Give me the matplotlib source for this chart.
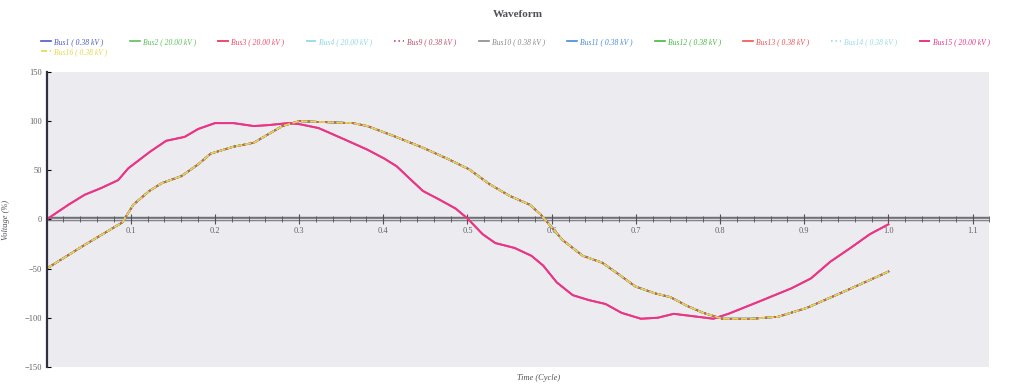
import numpy as np
import matplotlib
matplotlib.use("Agg")
import matplotlib.pyplot as plt
from matplotlib.ticker import MultipleLocator

##--------------------##
## Data
##--------------------##

# Buses on the 0.38 kV side (they all sit on top of each other)
t_main = [0.0, 0.045, 0.09, 0.103, 0.122, 0.137, 0.16, 0.18, 0.195, 0.222, 0.246,
          0.264, 0.28, 0.30, 0.33, 0.364, 0.381, 0.412, 0.447, 0.478, 0.502, 0.526,
          0.55, 0.574, 0.587, 0.60, 0.613, 0.637, 0.66, 0.68, 0.699, 0.722, 0.741,
          0.761, 0.78, 0.803, 0.838, 0.869, 0.903, 0.943, 0.99, 1.0]
v_main = [-50, -26, -3, 15, 29, 37, 44, 56, 67, 74, 78,
          87, 95, 100, 99, 98, 95, 85, 73, 61, 51, 36,
          24, 15, 5, -8, -21, -37, -44, -56, -68, -75, -79,
          -88, -95, -101, -101, -99, -90, -75, -57, -53]

# 20 kV bus (shifted waveform)
t_shift = [0.0, 0.026, 0.045, 0.065, 0.085, 0.097, 0.123, 0.142, 0.164, 0.18, 0.2,
           0.222, 0.246, 0.264, 0.287, 0.30, 0.323, 0.355, 0.381, 0.401, 0.416, 0.432,
           0.447, 0.467, 0.486, 0.50, 0.518, 0.533, 0.556, 0.576, 0.59, 0.606, 0.625,
           0.644, 0.664, 0.683, 0.706, 0.726, 0.745, 0.764, 0.792, 0.81, 0.845, 0.885,
           0.908, 0.931, 0.955, 0.978, 1.0]
v_shift = [0, 15, 25, 32, 40, 52, 69, 80, 84, 92, 98,
           98, 95, 96, 98, 97, 93, 81, 71, 62, 54, 41,
           29, 20, 11, 1, -15, -24, -29, -37, -47, -64, -77,
           -82, -86, -95, -101, -100, -96, -98, -101, -96, -84, -70,
           -60, -43, -29, -15, -5]

buses = ["Bus1 ( 0.38 kV )", "Bus2 ( 20.00 kV )", "Bus3 ( 20.00 kV )", "Bus4 ( 20.00 kV )",
         "Bus9 ( 0.38 kV )", "Bus10 ( 0.38 kV )", "Bus11 ( 0.38 kV )", "Bus12 ( 0.38 kV )",
         "Bus13 ( 0.38 kV )", "Bus14 ( 0.38 kV )", "Bus15 ( 20.00 kV )", "Bus16 ( 0.38 kV )"]
shifted = [False, False, True, False, False, False, False, False, False, False, True, False]
colors = ["#4a5cc4", "#5cc05c", "#ee4a6a", "#8fd6e6", "#c0506a", "#8a8a8a",
          "#4a88d8", "#44b844", "#f05050", "#9adcea", "#e8358c", "#e6d84a"]
styles = ["-", "-", "-", "-.", ":", "-", "-", "-", "-", ":", "-", "--"]

##--------------------##
## Plot
##--------------------##

plt.rcParams['font.family'] = ['Liberation Serif', 'DejaVu Serif']

fig = plt.figure(figsize=(10.36, 3.85), dpi=100)
ax = fig.add_axes([0.045, 0.047, 0.91, 0.766])
ax.set_facecolor("#ececf0")

handles = []
for name, sh, c, ls in zip(buses, shifted, colors, styles):
    if sh:
        h, = ax.plot(t_shift, v_shift, color=c, ls=ls, lw=1.4, label=name,
                     solid_joinstyle='round')
    else:
        h, = ax.plot(t_main, v_main, color=c, ls=ls, lw=1.2, label=name,
                     solid_joinstyle='round')
    handles.append(h)

# double zero line like the original
ax.axhline(0, color="#707078", lw=3.2, zorder=1)
ax.axhline(0, color="#d8d8dc", lw=1.0, zorder=1)

ax.set_xlim(0, 1.12)
ax.set_ylim(-150, 150)
ax.spines['bottom'].set_position(('data', 0))
ax.spines['bottom'].set_visible(False)
ax.spines['top'].set_visible(False)
ax.spines['right'].set_visible(False)
ax.spines['left'].set_color("#303040")
ax.spines['left'].set_linewidth(1.6)

ax.xaxis.set_minor_locator(MultipleLocator(0.02))
ax.set_xticks(np.arange(0.1, 1.11, 0.1))
ax.set_xticklabels(["%.1f" % v for v in np.arange(0.1, 1.11, 0.1)])
ax.tick_params(axis='x', which='both', direction='inout', color="#505058",
               labelsize=6, labelcolor="#606068", pad=2)
ax.tick_params(axis='x', which='major', length=7)
ax.tick_params(axis='x', which='minor', length=4)
ax.set_yticks([-150, -100, -50, 0, 50, 100, 150])
ax.tick_params(axis='y', direction='in', length=3, labelsize=6, labelcolor="#606068")

ax.set_ylabel("Voltage (%)", fontsize=6, style='italic', color="#505058", labelpad=10)
fig.text(0.52, 0.018, "Time (Cycle)", ha='center', va='center', fontsize=6,
         style='italic', color="#505058")
fig.text(0.5, 0.955, "Waveform", ha='center', fontsize=8, fontweight='bold', color="#505058")

# legend fills column-wise, so put Bus16 under Bus1
order = [0, 11] + list(range(1, 11))
fig.legend([handles[i] for i in order], [buses[i] for i in order],
           loc='upper left', bbox_to_anchor=(0.037, 0.91), ncol=11, frameon=False,
           prop={'style': 'italic', 'size': 5.5}, labelcolor='linecolor',
           handlelength=1.3, handletextpad=0.4, columnspacing=2.9, borderaxespad=0,
           labelspacing=0.3)

plt.savefig("out.png", dpi=100)
